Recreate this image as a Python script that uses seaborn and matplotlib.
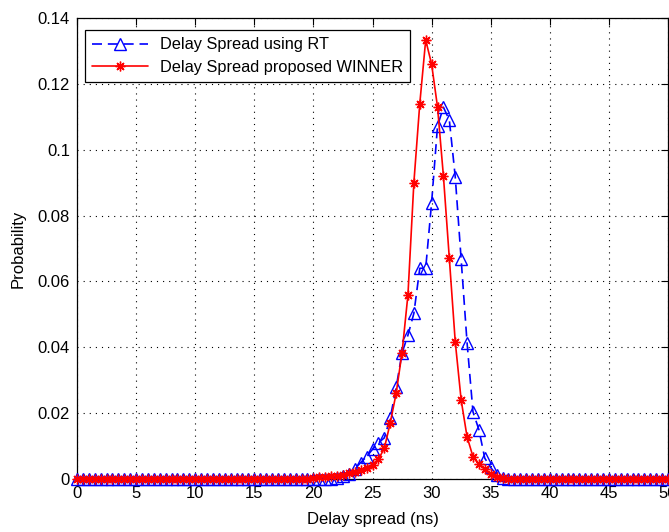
import numpy as np
import pandas as pd
import matplotlib
matplotlib.use("Agg")
import matplotlib.pyplot as plt
import seaborn as sns

# ---------------- data ----------------
delay_ns = [i * 0.5 for i in range(101)]  # 0, 0.5, ..., 50

prob_rt = [
    0, 0, 0, 0, 0, 0, 0, 0, 0, 0,                                        # 0 - 4.5
    0, 0, 0, 0, 0, 0, 0, 0, 0, 0,                                        # 5 - 9.5
    0, 0, 0, 0, 0, 0, 0, 0, 0, 0,                                        # 10 - 14.5
    0, 0, 0, 0, 0, 0, 0, 0, 0, 0,                                        # 15 - 19.5
    0, 0, 0, 0, 0.0004, 0.0008, 0.0015, 0.003, 0.005, 0.0068,            # 20 - 24.5
    0.009, 0.011, 0.0125, 0.0185, 0.0278, 0.0383, 0.0437, 0.0503, 0.064, 0.064,   # 25 - 29.5
    0.0839, 0.1072, 0.1129, 0.109, 0.0918, 0.0667, 0.0414, 0.0204, 0.015, 0.0063, # 30 - 34.5
    0.0035, 0.0012, 0.0003, 0, 0, 0, 0, 0, 0, 0,                         # 35 - 39.5
    0, 0, 0, 0, 0, 0, 0, 0, 0, 0,                                        # 40 - 44.5
    0, 0, 0, 0, 0, 0, 0, 0, 0, 0,                                        # 45 - 49.5
    0,                                                                   # 50
]

prob_winner = [
    0, 0, 0, 0, 0, 0, 0, 0, 0, 0,                                        # 0 - 4.5
    0, 0, 0, 0, 0, 0, 0, 0, 0, 0,                                        # 5 - 9.5
    0, 0, 0, 0, 0, 0, 0, 0, 0, 0,                                        # 10 - 14.5
    0, 0, 0, 0, 0, 0, 0, 0, 0, 0,                                        # 15 - 19.5
    0.0003, 0.0005, 0.0007, 0.0008, 0.001, 0.0012, 0.0017, 0.0021, 0.0026, 0.0033,  # 20 - 24.5
    0.0044, 0.006, 0.0093, 0.017, 0.026, 0.0384, 0.056, 0.090, 0.114, 0.1333,       # 25 - 29.5
    0.126, 0.113, 0.092, 0.067, 0.0417, 0.024, 0.0128, 0.0068, 0.0045, 0.003,       # 30 - 34.5
    0.0015, 0.0006, 0.0002, 0, 0, 0, 0, 0, 0, 0,                         # 35 - 39.5
    0, 0, 0, 0, 0, 0, 0, 0, 0, 0,                                        # 40 - 44.5
    0, 0, 0, 0, 0, 0, 0, 0, 0, 0,                                        # 45 - 49.5
    0,                                                                   # 50
]

series_labels = ["Delay Spread using RT", "Delay Spread proposed WINNER"]
x_ticks = [0, 5, 10, 15, 20, 25, 30, 35, 40, 45, 50]
y_ticks = [0, 0.02, 0.04, 0.06, 0.08, 0.1, 0.12, 0.14]
y_tick_labels = ["0", "0.02", "0.04", "0.06", "0.08", "0.1", "0.12", "0.14"]

# ---------------- style ----------------
sns.set_theme(style="white")
plt.rcParams["font.family"] = ["Liberation Sans", "DejaVu Sans"]
plt.rcParams["text.color"] = "black"
plt.rcParams["axes.labelcolor"] = "black"
plt.rcParams["xtick.color"] = "black"
plt.rcParams["ytick.color"] = "black"

df_rt = pd.DataFrame({"delay": delay_ns, "prob": prob_rt})
df_w = pd.DataFrame({"delay": delay_ns, "prob": prob_winner})

fig = plt.figure(figsize=(6.69, 5.32), dpi=100)
ax = fig.add_axes([77 / 669, 1 - 479 / 532, 591 / 669, 461 / 532])

sns.lineplot(data=df_rt, x="delay", y="prob", ax=ax, estimator=None, errorbar=None,
             sort=False, color="blue", linestyle=(0, (6, 3.5)), linewidth=1.2,
             marker="^", markersize=8, markerfacecolor="none",
             markeredgecolor="blue", markeredgewidth=1.0, clip_on=False,
             label=series_labels[0], zorder=3)
sns.lineplot(data=df_w, x="delay", y="prob", ax=ax, estimator=None, errorbar=None,
             sort=False, color="red", linestyle="-", linewidth=1.2,
             marker=(8, 2, 0), markersize=7, markerfacecolor="red",
             markeredgecolor="red", markeredgewidth=1.0, clip_on=False,
             label=series_labels[1], zorder=4)

ax.set_xlim(0, 50)
ax.set_ylim(0, 0.14)
ax.set_xticks(x_ticks)
ax.set_xticklabels([str(t) for t in x_ticks])
ax.set_yticks(y_ticks)
ax.set_yticklabels(y_tick_labels)
ax.tick_params(axis="both", direction="in", length=5, width=0.8, labelsize=12,
               top=True, right=True, pad=5)
ax.grid(True, color="black", linestyle=(0, (1, 4.5)), linewidth=0.8)
for sp in ax.spines.values():
    sp.set_visible(True)
    sp.set_color("black")
    sp.set_linewidth(0.9)

ax.set_xlabel("Delay spread (ns)", fontsize=12, labelpad=8)
ax.set_ylabel("Probability", fontsize=12, labelpad=9)

handles, labels = ax.get_legend_handles_labels()
leg = ax.legend(handles, labels, loc="upper left",
                bbox_to_anchor=(8 / 591, 1 - 12 / 461), borderaxespad=0,
                fontsize=11.8, frameon=True, fancybox=False, shadow=False,
                edgecolor="black", framealpha=1, handlelength=3.4,
                handletextpad=0.7, labelspacing=0.45, borderpad=0.45)
leg.get_frame().set_linewidth(0.9)

fig.savefig("out.png", dpi=100, facecolor="white")
